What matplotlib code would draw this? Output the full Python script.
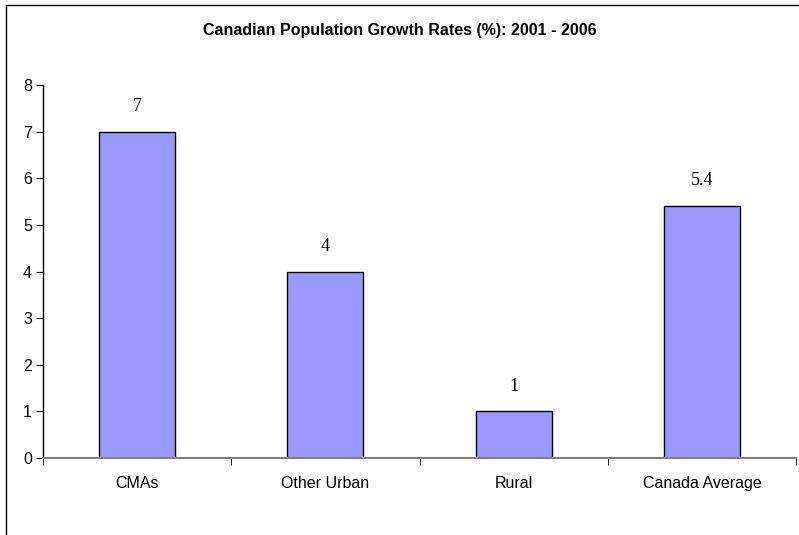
import matplotlib
matplotlib.use("Agg")
import matplotlib.pyplot as plt
from matplotlib.lines import Line2D

categories = ["CMAs", "Other Urban", "Rural", "Canada Average"]
values = [7, 4, 1, 5.4]
value_labels = ["7", "4", "1", "5.4"]
y_ticks = [0, 1, 2, 3, 4, 5, 6, 7, 8]
title = "Canadian Population Growth Rates (%): 2001 - 2006"

fig = plt.figure(figsize=(7.99, 5.35), dpi=100)
fig.patch.set_facecolor("white")

# Outer chart border (top and left visible)
fig.add_artist(Line2D([6/799, 6/799], [0, 1 - 5/535], transform=fig.transFigure,
                      color="black", lw=1.0))
fig.add_artist(Line2D([6/799, 1], [1 - 5/535, 1 - 5/535], transform=fig.transFigure,
                      color="black", lw=1.0))

ax = fig.add_axes([43/799, 1 - 458/535, 753/799, (458 - 85)/535])
x = list(range(len(categories)))
ax.bar(x, values, width=0.405, color="#9999FF", edgecolor="black", linewidth=1.0, zorder=2)

for xi, v, lab in zip(x, values, value_labels):
    ax.text(xi, v + 0.36, lab, ha="center", va="bottom",
            fontfamily="Liberation Serif", fontsize=13, color="black")

ax.set_xlim(-0.5, 3.5)
ax.set_ylim(0, 8)
ax.set_yticks(y_ticks)
ax.set_yticklabels([str(t) for t in y_ticks], fontfamily="Liberation Sans", fontsize=11.5)
ax.set_xticks(x)
ax.set_xticklabels(categories, fontfamily="Liberation Sans", fontsize=11.5)
ax.set_xticks([-0.5, 0.5, 1.5, 2.5, 3.5], minor=True)
ax.tick_params(axis="x", which="major", length=0, pad=13)
ax.tick_params(axis="x", which="minor", length=5, direction="out", color="black")
ax.tick_params(axis="y", which="major", length=5, direction="out", pad=3, color="black")

for s in ["top", "right"]:
    ax.spines[s].set_visible(False)
ax.spines["left"].set_color("black")
ax.spines["left"].set_linewidth(1.0)
ax.spines["bottom"].set_color("#808080")
ax.spines["bottom"].set_linewidth(1.5)

fig.text(0.5, 1 - 30/535, title, ha="center", va="center",
         fontfamily="Liberation Sans", fontweight="bold", fontsize=11.5)

fig.savefig("out.png", dpi=100)
